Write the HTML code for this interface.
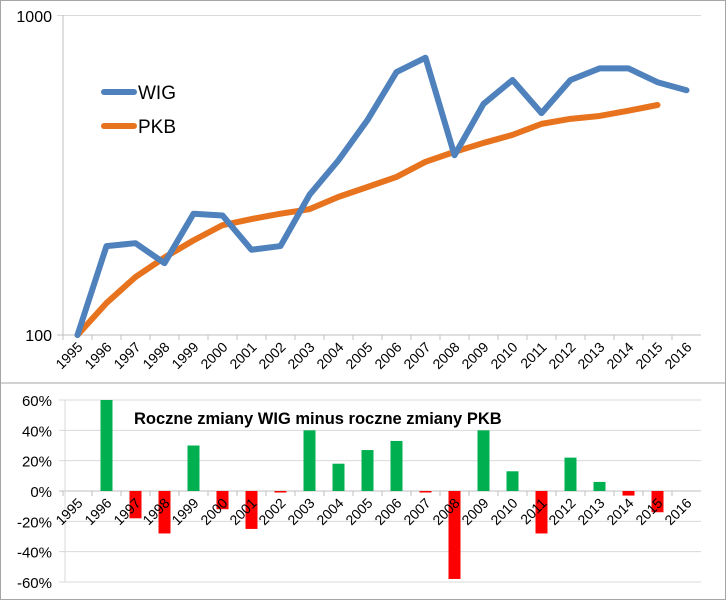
<!DOCTYPE html>
<html><head><meta charset="utf-8"><style>
body{margin:0;background:#fff;font-family:"Liberation Sans",sans-serif}
svg text{font-family:"Liberation Sans",sans-serif;fill:#000}
</style></head><body>
<svg id="c" width="726" height="600" xmlns="http://www.w3.org/2000/svg">
<rect x="0.5" y="0.5" width="725" height="599" fill="#fff" stroke="#a6a6a6"/>
<line x1="0" y1="383" x2="726" y2="383" stroke="#a6a6a6"/>
<g id="topg"></g>
<g id="botg"></g>
</svg>
<script>
const years=["1995","1996","1997","1998","1999","2000","2001","2002","2003","2004","2005","2006","2007","2008","2009","2010","2011","2012","2013","2014","2015","2016"];
const wig=[100,190,194,168,240,237,185,190,275,353,472,667,740,366,530,630,496,630,685,685,620,585];
const pkb=[100,126,152,175,198,221,231,240,248,271,291,313,349,375,400,424,459,476,486,505,526,null];
const diff=[null,60,-18,-28,30,-12,-25,-1,40,18,27,33,-1,-58,40,13,-28,22,6,-3,-14,null];
const pctTicks=[60,40,20,0,-20,-40,-60];
const NS="http://www.w3.org/2000/svg";
function mk(p,t,a,txt){const e=document.createElementNS(NS,t);for(const k in a)e.setAttribute(k,a[k]);if(txt!=null)e.textContent=txt;p.appendChild(e);return e;}
const x0=63,bw=29;
const xc=i=>x0+bw*(i+0.5);
const yLog=v=>335-319*Math.log10(v/100);
const yPct=v=>491-v*1.5167;
const topG=document.getElementById('topg'),botG=document.getElementById('botg');
let e=mk(topG,'line',{x1:57,y1:15.5,x2:x0+bw*22,y2:15.5,stroke:'#d9d9d9'});


e=mk(topG,'line',{x1:x0,y1:15,x2:x0,y2:335,stroke:'#bfbfbf'});


e=mk(topG,'line',{x1:57,y1:335,x2:x0+bw*22,y2:335,stroke:'#bfbfbf'});


e=mk(topG,'text',{x:52,y:22,'text-anchor':'end','font-size':16},'1000');


e=mk(topG,'text',{x:52,y:341,'text-anchor':'end','font-size':16},'100');


years.forEach((y,i)=>{
 const t=mk(topG,'line',{x1:x0+bw*i,y1:335,x2:x0+bw*i,y2:340,stroke:'#bfbfbf'});
 
 
 const l=mk(topG,'text',{x:xc(i)+6,y:348,'text-anchor':'end','font-size':14,transform:`rotate(-45 ${xc(i)+6} 348)`},y);
 
 
});
function series(arr,col,name){
 const pts=arr.map((v,i)=>v==null?null:xc(i)+','+yLog(v)).filter(p=>p);
 const p=mk(topG,'polyline',{points:pts.join(' '),fill:'none',stroke:col,'stroke-width':6,'stroke-linejoin':'round','stroke-linecap':'round'});
 
 
}
series(pkb,'#e8731e','pkb-line');
series(wig,'#4f81bd','wig-line');
e=mk(topG,'line',{x1:104,y1:92,x2:134,y2:92,stroke:'#4f81bd','stroke-width':6,'stroke-linecap':'round'});


e=mk(topG,'text',{x:138,y:99,'font-size':19},'WIG');


e=mk(topG,'line',{x1:104,y1:126,x2:134,y2:126,stroke:'#e8731e','stroke-width':6,'stroke-linecap':'round'});


e=mk(topG,'text',{x:138,y:133,'font-size':19},'PKB');


pctTicks.forEach(v=>{
 const g=mk(botG,'line',{x1:59,y1:yPct(v),x2:x0+bw*22,y2:yPct(v),stroke:v===0?'#bfbfbf':'#d9d9d9'});
 
 
 const t=mk(botG,'text',{x:52,y:yPct(v)+6,'text-anchor':'end','font-size':15},v+'%');
 
 
});
e=mk(botG,'line',{x1:x0+2,y1:yPct(60),x2:x0+2,y2:yPct(-60),stroke:'#d9d9d9'});


diff.forEach((v,i)=>{
 if(v==null)return;
 const y1=yPct(Math.max(v,0)),y2=yPct(Math.min(v,0));
 const r=mk(botG,'rect',{x:xc(i)-6,y:y1,width:12,height:Math.max(y2-y1,1.5),fill:v>=0?'#00b050':'#ff0000'});
 
 
});
years.forEach((y,i)=>{
 const t=mk(botG,'line',{x1:x0+bw*i,y1:491,x2:x0+bw*i,y2:496,stroke:'#bfbfbf'});
 
 
 const l=mk(botG,'text',{x:xc(i)+6,y:504,'text-anchor':'end','font-size':14,transform:`rotate(-45 ${xc(i)+6} 504)`},y);
 
 
});
e=mk(botG,'text',{x:134,y:424,'font-size':16.5,'font-weight':'bold'},'Roczne zmiany WIG minus roczne zmiany PKB');


</script>
</body></html>
